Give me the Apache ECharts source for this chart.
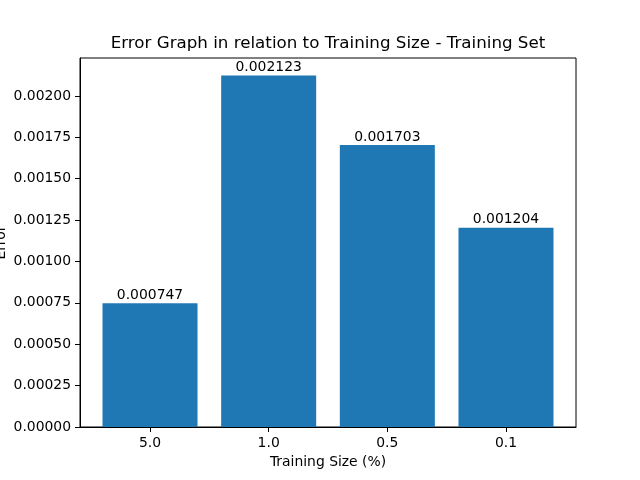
<!DOCTYPE html>
<html>
<head>
<meta charset="utf-8">
<script src="https://cdn.jsdelivr.net/npm/echarts@6/dist/echarts.min.js"></script>
<style>
  html, body { margin: 0; padding: 0; background: #fff; }
  #chart { width: 640px; height: 480px; }
</style>
</head>
<body>
<div id="chart"></div>
<script>
'use strict';

// training sizes (%) and the training set error for each
var categories = ['5.0', '1.0', '0.5', '0.1'];
var errors = [0.000747, 0.002123, 0.001703, 0.001204];
var yTicks = [0, 0.00025, 0.0005, 0.00075, 0.001, 0.00125, 0.0015, 0.00175, 0.002];
var xTicks = [0, 1, 2, 3];

var font = 'DejaVu Sans';
var chart = echarts.init(document.getElementById('chart'), null, {renderer: 'canvas'});

// matplotlib style limits: bars are 0.8 wide, 5% margins
var yMax = Math.max.apply(null, errors) * 1.05;
var xMin = -0.4 - 0.05 * (categories.length - 1 + 0.8);
var xMax = categories.length - 1 + 0.4 + 0.05 * (categories.length - 1 + 0.8);

var option = {
    animation: false,
    backgroundColor: '#fff',
    title: {
        text: 'Error Graph in relation to Training Size - Training Set',
        left: 323,
        top: 30,
        textAlign: 'center',
        textStyle: {fontFamily: font, fontSize: 16.7, fontWeight: 'normal', color: '#000'}
    },
    grid: {
        left: 80, right: 64, top: 58, bottom: 53,
        containLabel: false,
        outerBoundsMode: 'none',
        show: true, borderColor: '#000', borderWidth: 1, backgroundColor: 'transparent'
    },
    xAxis: {
        type: 'value',
        min: xMin,
        max: xMax,
        name: 'Training Size (%)',
        nameLocation: 'middle',
        nameGap: 28,
        nameMoveOverlap: false,
        nameTextStyle: {fontFamily: font, fontSize: 13.9, color: '#000'},
        splitLine: {show: false},
        axisLine: {show: true, onZero: false, lineStyle: {color: '#000', width: 1}},
        axisTick: {show: true, length: 5, customValues: xTicks, lineStyle: {color: '#000'}},
        axisLabel: {
            customValues: xTicks,
            margin: 9,
            fontFamily: font, fontSize: 13.9, color: '#000',
            formatter: function (v) { return categories[Math.round(v)]; }
        }
    },
    yAxis: {
        type: 'value',
        min: 0,
        max: yMax,
        name: 'Error',
        nameLocation: 'middle',
        nameGap: 72,
        nameMoveOverlap: false,
        nameTextStyle: {fontFamily: font, fontSize: 13.9, color: '#000'},
        splitLine: {show: false},
        axisLine: {show: true, onZero: false, lineStyle: {color: '#000', width: 1}},
        axisTick: {show: true, length: 5, customValues: yTicks, lineStyle: {color: '#000'}},
        axisLabel: {
            customValues: yTicks,
            margin: 9,
            fontFamily: font, fontSize: 13.9, color: '#000',
            formatter: function (v) { return v.toFixed(5); }
        }
    },
    series: [{
        type: 'bar',
        barWidth: 95,
        itemStyle: {color: '#1f77b4'},
        label: {
            show: true,
            position: 'top',
            distance: 1,
            fontFamily: font, fontSize: 13.9, color: '#000',
            formatter: function (p) { return p.value[1].toFixed(6); }
        },
        data: errors.map(function (v, i) { return [i, v]; })
    }]
};

chart.setOption(option);
</script>
</body>
</html>
